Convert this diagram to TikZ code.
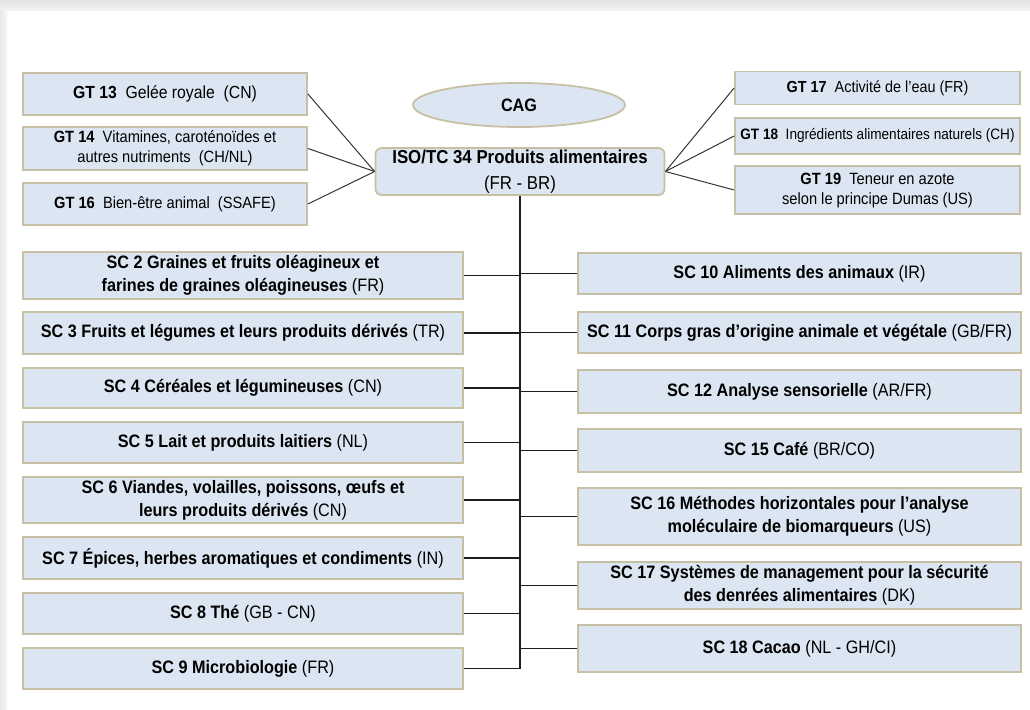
\documentclass[tikz,border=0pt]{standalone}
\usepackage{fontspec}
\setmainfont{Liberation Sans}[FakeStretch=0.9]
\usetikzlibrary{shapes.geometric}
\definecolor{boxfill}{HTML}{DCE6F2}
\definecolor{boxline}{HTML}{C8C0A4}
\definecolor{conn}{HTML}{1E1E1E}
\tikzset{
  box/.style={draw=boxline, line width=1.8pt, fill=boxfill, inner sep=0pt, align=center, text=black},
  scbox/.style={box, font=\fontsize{18}{22.7}\selectfont},
  gtbox/.style={box, font=\fontsize{16.3}{20}\selectfont},
  trunkline/.style={draw=conn, line width=1.6pt},
  gtline/.style={draw=conn!90, line width=1pt},
}
\begin{document}
\begin{tikzpicture}[x=1pt,y=-1pt]
\useasboundingbox (0,0) rectangle (1030,709);
\fill[white] (0,0) rectangle (1030,709);
\shade[top color=gray!22, bottom color=gray!8] (0,0) rectangle (1030,11);
\shade[left color=gray!18, right color=gray!6] (0,11) rectangle (7,709);

% left GT
\node[gtbox, minimum width=284, minimum height=42, font=\fontsize{17.5}{20}\selectfont] (gt13) at (165,94) {\textbf{GT 13}\ \ Gelée royale\ \ (CN)};
\node[gtbox, minimum width=284, minimum height=43] (gt14) at (165,148.5) {\textbf{GT 14}\ \ Vitamines, caroténoïdes et\\autres nutriments\ \ (CH/NL)};
\node[gtbox, minimum width=284, minimum height=42] (gt16) at (165,204) {\textbf{GT 16}\ \ Bien-être animal\ \ (SSAFE)};
% right GT
\node[gtbox, minimum width=285, minimum height=33, font=\fontsize{16}{20}\selectfont] (gt17) at (877.5,88) {\textbf{GT 17}\ \ Activité de l’eau (FR)};
\node[gtbox, minimum width=285, minimum height=36, font=\fontsize{15.1}{20}\selectfont] (gt18) at (877.5,136) {\textbf{GT 18}\ \ Ingrédients alimentaires naturels (CH)};
\node[gtbox, minimum width=285, minimum height=48] (gt19) at (877.5,190) {\textbf{GT 19}\ \ Teneur en azote\\selon le principe Dumas (US)};

% centre
\node[box, ellipse, minimum width=212, minimum height=44, font=\fontsize{18}{22}\selectfont\bfseries] (cag) at (519,105) {CAG};
\node[box, rounded corners=6pt, minimum width=289, minimum height=47, font=\fontsize{18.7}{26}\selectfont] (iso) at (520,171.5) {\textbf{ISO/TC 34 Produits alimentaires}\\(FR - BR)};

% left SC
\node[scbox, minimum width=440, minimum height=47] (sc2) at (243,275.5) {\textbf{SC 2 Graines et fruits oléagineux et}\\\textbf{farines de graines oléagineuses} (FR)};
\node[scbox, minimum width=440, minimum height=42] (sc3) at (243,333) {\textbf{SC 3 Fruits et légumes et leurs produits dérivés} (TR)};
\node[scbox, minimum width=440, minimum height=40] (sc4) at (243,388) {\textbf{SC 4 Céréales et légumineuses} (CN)};
\node[scbox, minimum width=440, minimum height=41] (sc5) at (243,442.5) {\textbf{SC 5 Lait et produits laitiers} (NL)};
\node[scbox, minimum width=440, minimum height=46] (sc6) at (243,500) {\textbf{SC 6 Viandes, volailles, poissons, œufs et}\\\textbf{leurs produits dérivés} (CN)};
\node[scbox, minimum width=440, minimum height=42] (sc7) at (243,558) {\textbf{SC 7 Épices, herbes aromatiques et condiments} (IN)};
\node[scbox, minimum width=440, minimum height=41] (sc8) at (243,613.5) {\textbf{SC 8 Thé} (GB - CN)};
\node[scbox, minimum width=440, minimum height=41] (sc9) at (243,668.5) {\textbf{SC 9 Microbiologie} (FR)};

% right SC
\node[scbox, minimum width=443, minimum height=41] (sc10) at (799.5,273.5) {\textbf{SC 10 Aliments des animaux} (IR)};
\node[scbox, minimum width=443, minimum height=41] (sc11) at (799.5,332.5) {\textbf{SC 11 Corps gras d’origine animale et végétale} (GB/FR)};
\node[scbox, minimum width=443, minimum height=43] (sc12) at (799.5,391.5) {\textbf{SC 12 Analyse sensorielle} (AR/FR)};
\node[scbox, minimum width=443, minimum height=43] (sc15) at (799.5,450.5) {\textbf{SC 15 Café} (BR/CO)};
\node[scbox, minimum width=443, minimum height=57] (sc16) at (799.5,516.5) {\textbf{SC 16 Méthodes horizontales pour l’analyse}\\\textbf{moléculaire de biomarqueurs} (US)};
\node[scbox, minimum width=443, minimum height=47] (sc17) at (799.5,585.5) {\textbf{SC 17 Systèmes de management pour la sécurité}\\\textbf{des denrées alimentaires} (DK)};
\node[scbox, minimum width=443, minimum height=47] (sc18) at (799.5,648.5) {\textbf{SC 18 Cacao} (NL - GH/CI)};

% GT connectors
\foreach \g in {gt13,gt14,gt16} \draw[gtline] (\g.east) -- (iso.west);
\foreach \g in {gt17,gt18,gt19} \draw[gtline] (\g.west) -- (iso.east);

% trunk
\draw[trunkline] (iso.south) -- (iso.south |- sc9.east);
\foreach \s in {sc2,sc3,sc4,sc5,sc6,sc7,sc8,sc9} \draw[trunkline] (\s.east) -- (\s.east -| iso.south);
\foreach \s in {sc10,sc11,sc12,sc15,sc16,sc17,sc18} \draw[trunkline] (\s.west) -- (\s.west -| iso.south);
\end{tikzpicture}
\end{document}
